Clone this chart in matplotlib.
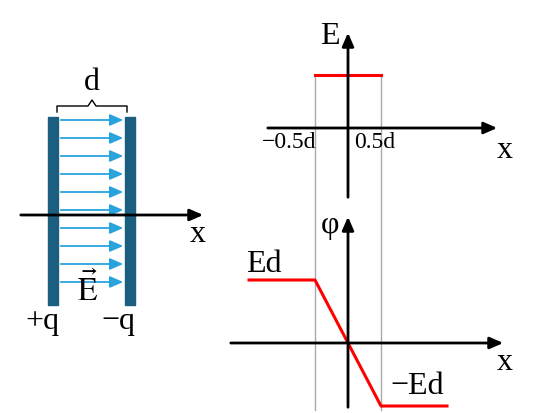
import matplotlib
matplotlib.use("Agg")
import matplotlib.pyplot as plt
import numpy as np

# data (in units of d and E*d)
plate_edges = [-0.5, 0.5]
E_value = 1.0
phi_x = [-1.5, -0.5, 0.5, 1.5]
phi_vals = [1.0, 1.0, -1.0, -1.0]
n_field_lines = 9
tick_labels = ["\u22120.5d", "0.5d"]

W, H = 537, 413
fig = plt.figure(figsize=(W/100, H/100), dpi=100)
ax = fig.add_axes([0, 0, 1, 1])
ax.set_xlim(0, W); ax.set_ylim(H, 0); ax.axis('off')
plt.rcParams['font.family'] = ['Liberation Serif', 'DejaVu Serif']
plt.rcParams['mathtext.fontset'] = 'stix'
FS = 23
blue = '#1b5e80'; arrowc = '#29a3dd'

def arrow(x0, y0, x1, y1, c='black', lw=2):
    ax.annotate('', xy=(x1, y1), xytext=(x0, y0),
                arrowprops=dict(arrowstyle='-|>,head_length=0.8,head_width=0.35', color=c, lw=lw))

# capacitor
ax.add_patch(plt.Rectangle((48, 117), 10, 188, color=blue))
ax.add_patch(plt.Rectangle((125, 117), 10, 188, color=blue))
for y in np.linspace(120, 282, n_field_lines + 1):
    arrow(58, y, 126, y, c=arrowc, lw=1.3)
arrow(18, 215, 206, 215, lw=2)
ax.text(198, 235, 'x', fontsize=FS, ha='center', va='center')
ax.plot([57, 57, 88, 92, 96, 127, 127], [112, 106, 106, 100, 106, 106, 112], color='black', lw=1)
ax.text(92, 83, 'd', fontsize=FS, ha='center', va='center')
ax.text(42, 322, '+q', fontsize=FS, ha='center', va='center')
ax.text(118, 322, '\u2212q', fontsize=FS, ha='center', va='center')
ax.text(88, 290, r'$\vec{\mathrm{E}}$', fontsize=FS, ha='center', va='center')

# right plots: data -> pixel mapping
x0p, sx = 348, 66
def px(x): return x0p + sx*np.asarray(x)
E0y, Esy = 128, 53
P0y, Psy = 343, 63

for xe in plate_edges:
    ax.plot([px(xe)]*2, [75, 410], color='#aaaaaa', lw=1)
# E plot
arrow(265, 128, 500, 128)
arrow(348, 200, 348, 30)
ax.plot(px(plate_edges), [E0y - Esy*E_value]*2, color='red', lw=2.2)
ax.text(330, 36, 'E', fontsize=FS, ha='center', va='center')
ax.text(505, 150, 'x', fontsize=FS, ha='center', va='center')
ax.text(px(plate_edges[0]) - 26, 143, tick_labels[0], fontsize=17, ha='center', va='center')
ax.text(px(plate_edges[1]) - 6, 143, tick_labels[1], fontsize=17, ha='center', va='center')
# phi plot
arrow(228, 343, 506, 343)
arrow(348, 410, 348, 214)
ax.plot(px(phi_x), P0y - Psy*np.array(phi_vals), color='red', lw=2.2)
ax.text(330, 226, '\u03c6', fontsize=FS, ha='center', va='center')
ax.text(505, 362, 'x', fontsize=FS, ha='center', va='center')
ax.text(264, 265, 'Ed', fontsize=FS, ha='center', va='center')
ax.text(417, 387, '\u2212Ed', fontsize=FS, ha='center', va='center')

fig.savefig('out.png', dpi=100)
